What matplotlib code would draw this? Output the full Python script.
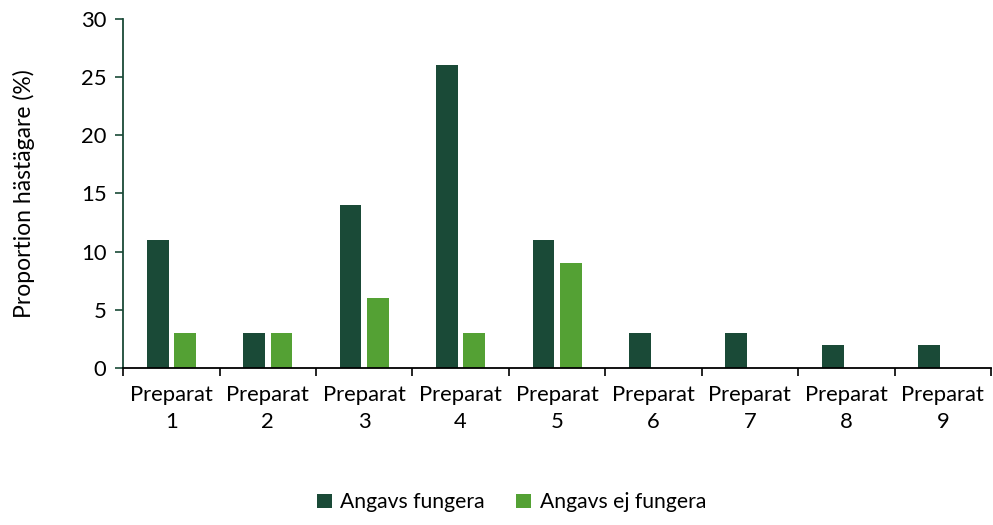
import numpy as np
import matplotlib.pyplot as plt
from matplotlib.ticker import FixedLocator

categories = ["Preparat\n1", "Preparat\n2", "Preparat\n3", "Preparat\n4", "Preparat\n5",
              "Preparat\n6", "Preparat\n7", "Preparat\n8", "Preparat\n9"]
fungera = [11, 3, 14, 26, 11, 3, 3, 2, 2]
ej_fungera = [3, 3, 6, 3, 9, 0, 0, 0, 0]

color_dark = "#1a4a37"
color_light = "#54a134"

plt.rcParams["font.family"] = ["Lato", "DejaVu Sans"]

fig = plt.figure(figsize=(9.93, 5.25), dpi=100)
ax = fig.add_axes([0.124, 0.299, 0.874, 0.665])

x = np.arange(len(categories))
w = 0.225
off = 0.142
ax.bar(x - off, fungera, width=w, color=color_dark, label="Angavs fungera")
ax.bar(x + off, ej_fungera, width=w, color=color_light, label="Angavs ej fungera")

ax.set_xlim(-0.5, len(categories) - 0.5)
ax.set_ylim(0, 30)
ax.set_yticks(np.arange(0, 31, 5))
ax.set_xticks(x)
ax.set_xticklabels(categories, fontsize=15.8, linespacing=1.45)
ax.xaxis.set_minor_locator(FixedLocator(np.arange(-0.5, len(categories), 1)))
ax.tick_params(axis="x", which="major", length=0, pad=12)
ax.tick_params(axis="x", which="minor", length=6, width=1.2, color="black")
ax.tick_params(axis="y", length=6, width=1.2, color=color_dark, labelsize=15.8, pad=6)

for s in ["top", "right"]:
    ax.spines[s].set_visible(False)
ax.spines["left"].set_color(color_dark)
ax.spines["left"].set_linewidth(1.3)
ax.spines["bottom"].set_color("black")
ax.spines["bottom"].set_linewidth(1.3)

ax.set_ylabel("Proportion hästägare (%)", fontsize=16.5, labelpad=33)

fig.legend(loc="lower center", bbox_to_anchor=(0.515, -0.012), ncol=2, frameon=False,
           fontsize=15.2, handlelength=0.7, handleheight=0.7, columnspacing=1.5,
           handletextpad=0.4)

fig.savefig("out.png", dpi=100)
